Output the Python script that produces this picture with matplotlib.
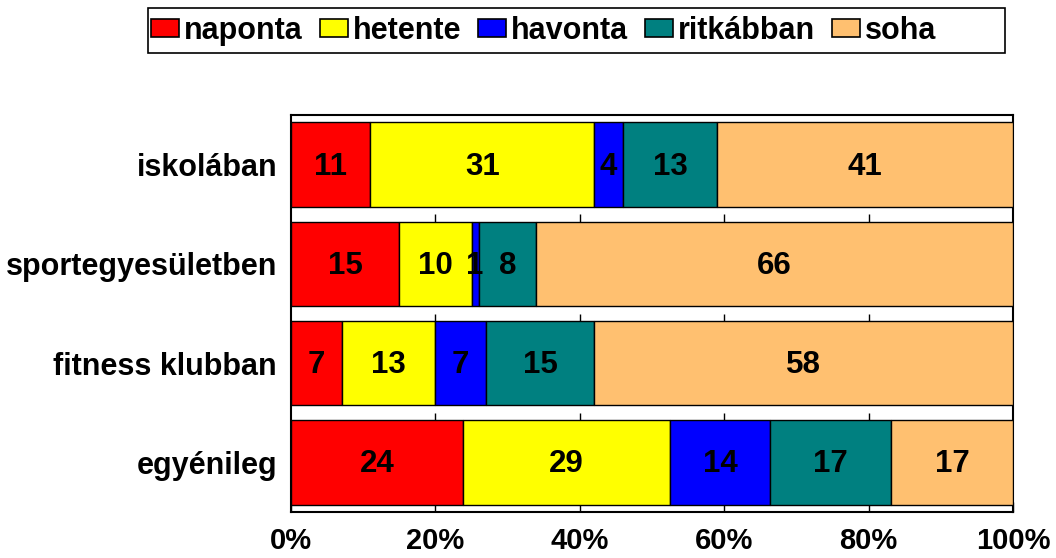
import numpy as np
import matplotlib
matplotlib.use("Agg")
import matplotlib.pyplot as plt
from matplotlib.patches import Rectangle

plt.rcParams['font.family'] = ['Liberation Sans', 'DejaVu Sans']
plt.rcParams['font.weight'] = 'bold'

categories = ["iskolában", "sportegyesületben", "fitness klubban", "egyénileg"]
series = ["naponta", "hetente", "havonta", "ritkábban", "soha"]
colors = ["#FF0000", "#FFFF00", "#0000FF", "#008080", "#FFC070"]

naponta = [11, 15, 7, 24]
hetente = [31, 10, 13, 29]
havonta = [4, 1, 7, 14]
ritkabban = [13, 8, 15, 17]
soha = [41, 66, 58, 17]

vals = np.array([naponta, hetente, havonta, ritkabban, soha], dtype=float)
pct = vals / vals.sum(axis=0) * 100

fig = plt.figure(figsize=(10.56, 5.58), dpi=100)
ax = fig.add_axes([291/1056, 1-512/558, (1013-291)/1056, (512-115)/558])

y = np.arange(len(categories))
bh = 0.85
left = np.zeros(len(categories))
for i, name in enumerate(series):
    ax.barh(y, pct[i], left=left, height=bh, color=colors[i],
            edgecolor="black", linewidth=1, label=name, zorder=3)
    for j in range(len(categories)):
        ax.text(left[j] + pct[i][j]/2, y[j] + 0.02, "%d" % vals[i][j],
                ha="center", va="center", fontsize=22.5, fontweight="bold", zorder=4)
    left += pct[i]

xt = np.arange(0, 101, 20)
# small tick marks seen in the gaps between bars
for b in y[:-1] + 0.5:
    ax.vlines(xt[1:-1], b, b + (1 - bh) / 2, color="black", linewidth=1, zorder=1)

ax.set_xlim(0, 100)
ax.set_ylim(3.5, -0.5)
ax.set_yticks(y)
ax.set_yticklabels(categories, fontsize=22, fontweight="bold")
ax.set_xticks(xt)
ax.set_xticklabels(["%d%%" % v for v in xt], fontsize=21, fontweight="bold")
ax.tick_params(axis="y", length=0, pad=10)
ax.tick_params(axis="x", direction="in", length=7, width=1, pad=11)
for s in ax.spines.values():
    s.set_linewidth(1.5)

leg = fig.legend(loc="center left", bbox_to_anchor=(151/1056, 1-31/558), ncol=5,
                 fontsize=22, frameon=False,
                 handlelength=0.92, handleheight=0.52, handletextpad=0.16,
                 columnspacing=0.55, borderpad=0, borderaxespad=0)
for p in leg.get_patches():
    p.set_linewidth(1.2)
fig.patches.append(Rectangle((148/1056, 1-53/558), (1005-148)/1056, 45/558,
                             transform=fig.transFigure, fill=False,
                             edgecolor="black", linewidth=1.2))

fig.savefig("out.png", dpi=100)
